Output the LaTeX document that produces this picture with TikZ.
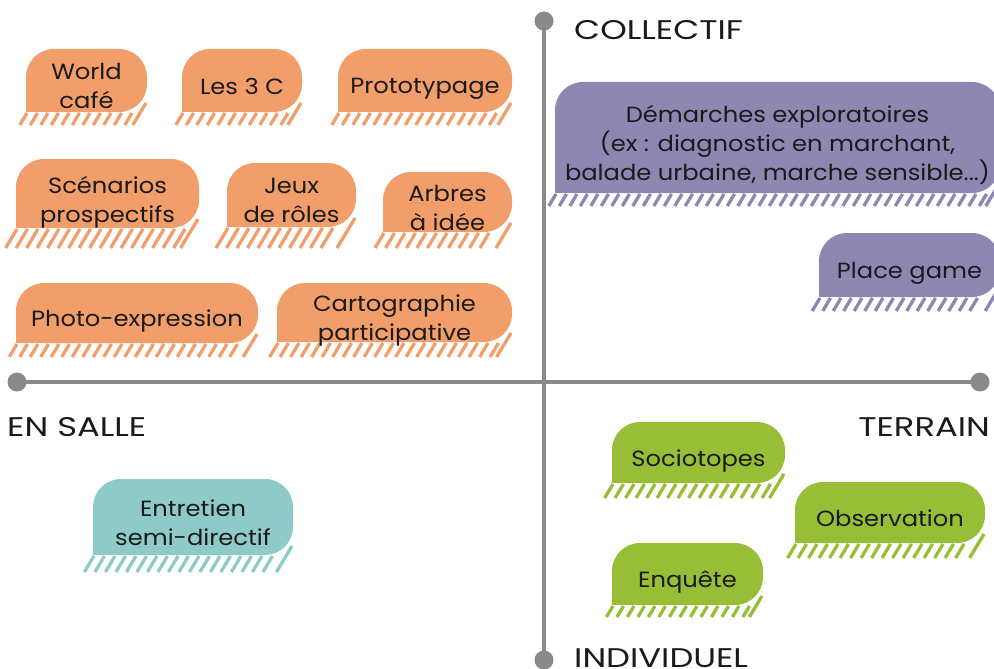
\documentclass[tikz,border=0pt]{standalone}
\usepackage{fontspec}
\setmainfont{Poppins}
\newfontfamily\axfont[FakeStretch=1.25]{Poppins}
\newfontfamily\bfont[FakeStretch=1.1]{Poppins}
\definecolor{corange}{HTML}{F29E6B}
\definecolor{cpurple}{HTML}{8D87B2}
\definecolor{cteal}{HTML}{8ECBC8}
\definecolor{cgreen}{HTML}{98BE38}
\definecolor{caxis}{HTML}{8A8A8A}
\definecolor{ctext}{HTML}{1A1A1A}
\tikzset{
  axisline/.style={draw=caxis,line width=4.5pt},
  axisdot/.style={circle,fill=caxis,inner sep=0pt,minimum size=19pt},
  axislabel/.style={font=\axfont\fontsize{27}{30}\selectfont,text=ctext,inner sep=0pt},
  btxt/.style={font=\bfont\fontsize{22}{29}\selectfont,text=ctext,align=center,inner sep=0pt,
    execute at end node={\vphantom{gp}}},
  hatch/.style={line width=3.3pt},
}
\newcommand\bub[8]{%
  \fill[#2,rounded corners=28pt] (#3,#4) rectangle (#5,#6);
  \fill[#2] (#3,#6) rectangle ++(28,-28);
  \pgfmathtruncatemacro\nh{floor((#5-#3-14)/10.5)}
  \foreach \i in {0,...,\nh}
    \draw[hatch,#2] ({#3+\i*10.5+1},{#6+1}) -- ++({-0.6*(#7-#6-1)},{#7-#6-1});
  \draw[hatch,#2] ({#5-1},{#6-9}) -- ++({-0.6*(#7-#6+9)},{#7-#6+9});
  \node[btxt] (#1) at ({(#3+#5)/2},{(#4+#6)/2+8.5}) {#8};
}
\begin{document}
\begin{tikzpicture}[x=1pt,y=-1pt]
\useasboundingbox (0,0) rectangle (994,669);
% axes
\node[axisdot] (top) at (544,21) {};
\node[axisdot] (bot) at (544,660) {};
\node[axisdot] (lft) at (17,382) {};
\node[axisdot] (rgt) at (980,382) {};
\draw[axisline] (top.center) -- (bot.center);
\draw[axisline] (lft.center) -- (rgt.center);
\node[axislabel,anchor=base west] (coll) at (574,40) {COLLECTIF};
\node[axislabel,anchor=base west] (indiv) at (574,667) {INDIVIDUEL};
\node[axislabel,anchor=base west] (salle) at (7,436) {EN SALLE};
\node[axislabel,anchor=base east] (terr) at (990,436) {TERRAIN};
% bubbles
\bub{wc}{corange}{26}{49}{147}{112}{125}{World\\café}
\bub{c3}{corange}{182}{49}{302}{112}{125}{Les 3 C}
\bub{proto}{corange}{338}{49}{512}{112}{125}{Prototypage}
\bub{scen}{corange}{16}{159}{199}{228}{248}{Scénarios\\prospectifs}
\bub{jeux}{corange}{227}{163}{356}{227}{248}{Jeux\\de rôles}
\bub{arbres}{corange}{383}{172}{512}{232}{248}{Arbres\\à idée}
\bub{photo}{corange}{16}{283}{258}{343}{357}{Photo-expression}
\bub{carto}{corange}{277}{283}{512}{342}{357}{Cartographie\\participative}
\bub{dem}{cpurple}{555}{82}{1000}{193}{206}{Démarches exploratoires\\(ex : diagnostic en marchant,\\balade urbaine, marche sensible...)}
\bub{place}{cpurple}{819}{233}{1000}{297}{311}{Place game}
\bub{entr}{cteal}{93}{479}{293}{555}{572}{Entretien\\semi-directif}
\bub{socio}{cgreen}{612}{422}{785}{483}{498}{Sociotopes}
\bub{obs}{cgreen}{795}{482}{985}{543}{558}{Observation}
\bub{enq}{cgreen}{612}{543}{763}{605}{617}{Enquête}
\end{tikzpicture}
\end{document}
